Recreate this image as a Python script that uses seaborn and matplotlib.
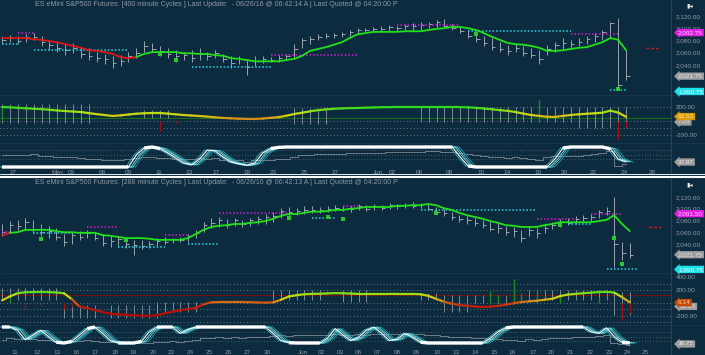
import numpy as np
import pandas as pd
import matplotlib
matplotlib.use("Agg")
import matplotlib.pyplot as plt
import matplotlib.transforms as mtransforms
from matplotlib.collections import LineCollection
from matplotlib.colors import LinearSegmentedColormap, Normalize
from matplotlib.lines import Line2D
import seaborn as sns

sns.set_style("dark")
plt.rcParams['font.family'] = ['Liberation Sans', 'DejaVu Sans']

# ---------------- data : upper chart (400 minute cycles) ----------------
highs_top = [2087,2089,2087,2090,2092,2087,2081,2077,2074,2076,
             2069,2068,2061,2058,2054,2056,2061,2068,2079,2076,
             2071,2068,2064,2061,2064,2068,2061,2064,2058,2054,
             2054,2048,2054,2054,2053,2056,2058,2074,2084,2087,
             2090,2092,2092,2094,2097,2100,2100,2102,2104,2105,
             2104,2107,2108,2110,2110,2113,2115,2107,2104,2097,
             2094,2087,2084,2077,2072,2074,2071,2068,2064,2072,
             2077,2084,2081,2084,2087,2092,2097,2110,2117,2064]
lows_top = [2074,2077,2074,2077,2081,2071,2064,2061,2056,2059,
            2051,2048,2045,2041,2035,2038,2045,2051,2061,2061,
            2054,2051,2045,2048,2045,2048,2048,2051,2045,2035,
            2041,2023,2038,2043,2045,2045,2048,2051,2068,2074,
            2081,2084,2084,2086,2087,2092,2094,2094,2094,2095,
            2095,2097,2097,2097,2100,2102,2100,2097,2092,2084,
            2077,2071,2064,2061,2056,2061,2054,2051,2041,2056,
            2061,2064,2068,2071,2074,2077,2081,2084,1999,2015]
closes_top = [2080,2084,2079,2085,2086,2078,2072,2068,2065,2068,
              2058,2054,2052,2050,2044,2047,2055,2060,2071,2066,
              2062,2058,2054,2056,2052,2058,2055,2059,2050,2043,
              2049,2036,2046,2049,2048,2052,2055,2066,2080,2082,
              2086,2088,2089,2090,2094,2097,2097,2099,2099,2102,
              2100,2103,2104,2106,2107,2110,2104,2100,2095,2088,
              2082,2076,2070,2066,2062,2068,2060,2056,2050,2066,
              2072,2076,2074,2078,2082,2088,2094,2108,2008,2022]
ma_top = [2084,2084,2084,2084,2082,2081,2079,2077,2074,2071,
          2068,2064,2063,2061,2058,2053,2051,2053,2058,2061,
          2061,2061,2061,2059,2059,2058,2058,2056,2055,2051,
          2050,2048,2046,2046,2046,2046,2048,2050,2055,2063,
          2066,2069,2073,2077,2084,2090,2092,2094,2094,2094,
          2094,2095,2095,2095,2097,2099,2100,2102,2102,2100,
          2097,2092,2086,2081,2076,2074,2073,2071,2068,2063,
          2063,2064,2066,2068,2069,2073,2077,2084,2081,2064]
ma_red_end_top = 17
osc_top = [200,195,188,182,175,170,160,150,142,135,
           128,112,98,85,72,80,92,104,110,114,
           114,105,95,85,78,71,62,52,44,38,
           33,30,29,35,45,55,75,100,118,138,
           155,166,174,180,184,186,190,193,196,198,
           200,200,200,200,200,200,200,200,198,194,
           188,178,168,155,145,128,105,85,72,60,
           58,72,86,95,103,110,118,148,120,60]
cyc_top = ([0] * 17 +
           [60,95,100,92,70,45,20,10,40,85,80,50,25,15,8,20,70,92,98] +
           [100] * 22 + [50,5] + [0] * 10 + [40,95] + [100] * 5 + [90,40,25])
seg_s_top = [0, 18, 37, 53, 73]
seg_e_top = [11, 21, 41, 72, 79]
seg_lo_top = [-30, 40, -40, -10, -100]
seg_hi_top = [240, 150, 190, 200, 200]
dn_i_top = [20, 22, 66, 78, 79]
dn_v_top = [-140, -30, -20, -270, -100]
up_i_top = [0, 68]
up_v_top = [230, 300]
lvl_s_top = [0, 2, 4, 24, 34, 50, 59, 72, 77]
lvl_e_top = [2, 4, 16, 34, 45, 58, 72, 78, 79]
lvl_v_top = [2074, 2092, 2064, 2037, 2056, 2105, 2095, 2091, 1999]
lvl_c_top = ['c', 'm', 'c', 'c', 'm', 'm', 'c', 'm', 'c']
mk_i_top = [20, 22, 60, 78]
mk_v_top = [2058, 2048, 2090, 2000]
proj_top = 2068
xt_top = [1.39, 7.09, 8.73, 12.66, 15.95, 19.87, 23.67, 27.09, 31.01, 34.30, 38.23, 42.15,
          47.59, 49.37, 52.78, 56.58, 60.63, 63.92, 67.85, 71.14, 74.81, 78.73, 82.28]
xl_top = ['27', 'May', '03', '06', '09', '11', '13', '17', '19', '23', '25', '27',
          'Jun', '02', '06', '08', '10', '14', '16', '20', '22', '24', '28']
title_top = ("ES eMini S&P500 Futures: [400 minute Cycles ] Last Update:  - 06/26/16 @ 06:42:14 A"
             " | Last Quoted @ 04:20:00 P")

# ---------------- data : lower chart (288 minute cycles) ----------------
highs_bot = [2074,2079,2081,2084,2081,2074,2071,2067,2057,2060,
             2062,2064,2060,2057,2054,2054,2050,2047,2047,2045,
             2050,2052,2050,2052,2057,2064,2077,2084,2086,2083,
             2084,2081,2084,2088,2091,2094,2101,2103,2101,2105,
             2105,2103,2105,2106,2105,2105,2108,2106,2108,2106,
             2110,2108,2110,2111,2110,2108,2103,2100,2094,2089,
             2088,2084,2081,2077,2076,2071,2069,2064,2071,2067,
             2072,2077,2083,2084,2088,2089,2091,2098,2103,2120,
             2043,2042]
lows_bot = [2054,2060,2064,2064,2060,2054,2050,2047,2037,2040,
            2047,2050,2047,2037,2035,2037,2033,2021,2031,2033,
            2037,2040,2042,2043,2043,2050,2060,2067,2069,2067,
            2071,2069,2071,2074,2074,2077,2084,2088,2089,2091,
            2093,2093,2094,2096,2096,2094,2098,2096,2098,2098,
            2100,2100,2101,2101,2101,2098,2091,2088,2081,2077,
            2074,2071,2067,2062,2059,2055,2052,2043,2054,2050,
            2059,2066,2069,2072,2074,2077,2079,2084,2089,2001,
            2013,2016]
closes_bot = [2060,2072,2070,2078,2066,2060,2062,2052,2044,2055,
              2052,2058,2050,2042,2045,2048,2040,2038,2036,2040,
              2045,2044,2048,2046,2053,2058,2072,2076,2080,2072,
              2080,2074,2080,2082,2086,2088,2096,2094,2096,2098,
              2098,2097,2100,2102,2100,2099,2104,2100,2104,2102,
              2106,2104,2106,2104,2108,2100,2095,2092,2086,2082,
              2080,2075,2072,2066,2068,2060,2062,2050,2064,2058,
              2068,2072,2078,2076,2082,2084,2086,2094,2096,2040,
              2025,2022]
ma_bot = [2054,2059,2060,2064,2064,2064,2064,2062,2060,2060,
          2059,2059,2059,2055,2054,2052,2050,2050,2050,2049,
          2047,2047,2047,2047,2050,2057,2064,2069,2071,2072,
          2074,2074,2076,2077,2079,2083,2088,2091,2091,2093,
          2095,2095,2096,2098,2098,2100,2101,2103,2103,2103,
          2103,2105,2105,2106,2106,2108,2106,2101,2098,2093,
          2089,2086,2083,2079,2076,2072,2071,2069,2069,2069,
          2072,2074,2077,2077,2077,2077,2077,2079,2081,2089,
          2074,2062]
ma_red_end_bot = 1
osc_bot = [40,100,150,165,168,170,168,162,150,60,
           -55,-80,-110,-140,-165,-175,-182,-190,-195,-198,
           -190,-160,-135,-110,-95,-75,-20,10,15,15,
           15,15,12,8,5,10,50,100,120,135,
           140,142,148,152,150,145,140,140,140,140,
           140,139,139,139,135,110,65,20,-10,-30,
           -45,-55,-62,-55,-45,-25,-5,15,25,35,
           50,65,105,130,140,150,160,168,172,160,
           90,10]
cyc_bot = ([100,100,80,20,50,80,40,5,0,10,50,90,100,60,15,0,0,0,10,70,100,100,100,60,85,100] +
           [100] * 9 + [60,15,2] + [0] * 4 +
           [30,90,50,15,35,80,100,60,15,25,60,35,5] + [0] * 8 + [30,70,95] +
           [100] * 10 + [70,60,95,40,5,0])
seg_s_bot = [0, 8, 14, 20, 35, 44, 54, 57, 61, 68, 79]
seg_e_bot = [7, 12, 20, 25, 41, 47, 56, 60, 67, 78, 81]
seg_lo_bot = [46, -230, -230, -140, 40, 20, 46, -139, 0, 46, -185]
seg_hi_bot = [230, -30, -30, 15, 200, 200, 154, 123, 123, 200, 170]
dn_i_bot = [3, 5, 8, 9, 62, 80, 81]
dn_v_bot = [-100, -40, -90, -60, -20, -260, -150]
up_i_bot = [1, 63, 64, 66, 67, 69, 72, 77]
up_v_bot = [120, 180, 120, 370, 150, 180, 100, 80]
lvl_s_bot = [0, 4, 11, 15, 21, 24, 28, 40, 44, 54, 69, 73, 76, 78]
lvl_e_bot = [1, 9, 15, 21, 24, 28, 37, 43, 46, 69, 74, 76, 80, 82]
lvl_v_bot = [2060, 2059, 2069, 2035, 2055, 2040, 2093, 2084, 2105, 2098, 2083, 2074, 2091, 1998]
lvl_c_bot = ['m', 'c', 'm', 'c', 'm', 'c', 'm', 'c', 'm', 'c', 'm', 'c', 'm', 'c']
mk_i_bot = [5, 16, 37, 42, 44, 56, 72, 79, 80]
mk_v_bot = [2049, 2047, 2084, 2086, 2083, 2093, 2072, 2050, 2006]
proj_bot = 2069
xt_bot = [1.68, 4.52, 7.10, 9.55, 12.0, 14.58, 16.9, 19.48, 21.81, 24.26, 26.71, 29.16, 31.61,
          34.19, 38.84, 41.16, 43.61, 45.94, 48.39, 50.97, 53.42, 56.13, 58.58, 61.03, 63.48,
          65.81, 68.52, 70.84, 73.29, 75.87, 78.32, 80.65, 82.97]
xl_bot = ['11', '12', '13', '16', '17', '18', '19', '20', '23', '24', '25', '26', '27', '30',
          'Jun', '02', '03', '06', '07', '08', '09', '10', '13', '14', '15', '16', '17', '20',
          '21', '22', '23', '24', '25']
title_bot = ("ES eMini S&P500 Futures: [288 minute Cycles ] Last Update:  - 06/26/16 @ 06:42:13 A"
             " | Last Quoted @ 04:20:00 P")

price_ticks = [2040, 2060, 2080, 2100, 2120]

# ---------------- styling ----------------
BG = '#0d2b3f'
TXT = '#8d99a3'
BAR = '#a3abb2'
GREEN = '#22e01a'
RED = '#e01818'
LVL = {'c': '#27d3e3', 'm': '#d21fd2'}
W, H = 705, 355
RIGHT = 671

fig = plt.figure(figsize=(7.05, 3.55), dpi=100, facecolor=BG)

osc_cmap = LinearSegmentedColormap.from_list(
    'osc', [(0.0, '#b00808'), (0.37, '#c41c0a'), (0.5, '#d04a10'), (0.58, '#d8901a'),
            (0.68, '#d8c812'), (0.8, '#b8e014'), (1.0, '#30d820')])


def add_ax(top, bottom):
    ax = fig.add_axes([0, 1 - bottom / H, RIGHT / W, (bottom - top) / H])
    ax.set_facecolor('none')
    for s in ax.spines.values():
        s.set_visible(False)
    ax.grid(False)
    ax.tick_params(length=0, colors=TXT, labelsize=4.6, pad=3.5)
    ax.yaxis.tick_right()
    return ax


def tag(ax, pos, text, fc, tc):
    trans = mtransforms.blended_transform_factory(ax.transAxes, ax.transData)
    ax.text(1 + 7 / RIGHT, pos, text, transform=trans, fontsize=4.6, color=tc,
            va='center', ha='left', clip_on=False, zorder=20,
            bbox=dict(boxstyle='larrow,pad=0.18', fc=fc, ec='none'))


def panel(tp, p):
    (ptop, pbot, otop, obot, ctop, cbot) = tp
    n = len(p['close'])
    x = np.arange(n)
    df = pd.DataFrame({'i': x, 'high': p['high'], 'low': p['low'], 'close': p['close'],
                       'ma': p['ma'], 'osc': p['osc'], 'cyc': p['cyc']})

    # ---- price pane
    axp = add_ax(ptop, pbot)
    axp.set_xlim(*p['xlim'])
    axp.set_ylim(*p['pylim'])
    axp.set_xticks([])
    axp.set_yticks(price_ticks)
    axp.set_yticklabels([f'{v:,.2f}' for v in price_ticks])
    axp.vlines(df['i'], df['low'], df['high'], color=BAR, lw=0.65, zorder=2)
    axp.hlines(df['close'], df['i'], df['i'] + 0.45, color=BAR, lw=0.65, zorder=2)
    for s, e, v, c in zip(p['lvl_s'], p['lvl_e'], p['lvl_v'], p['lvl_c']):
        axp.hlines(v, s, e, colors=LVL[c], lw=1.1, linestyles=(0, (1.0, 1.3)), zorder=3)
    r = p['red_end']
    sns.lineplot(data=df.iloc[:r + 1], x='i', y='ma', color=RED, lw=1.3, ax=axp, zorder=4)
    sns.lineplot(data=df.iloc[r:], x='i', y='ma', color=GREEN, lw=1.3, ax=axp, zorder=4)
    axp.scatter(p['mk_i'], p['mk_v'], marker='s', s=5, color='#28c828', zorder=5, lw=0)
    axp.hlines(p['proj'], n + 1.5, n + 3, colors='#e01818', lw=1.0, linestyles=(0, (2, 1.5)))
    axp.set_xlabel('')
    axp.set_ylabel('')
    for v, t, fc, tc in p['ptags']:
        tag(axp, v, t, fc, tc)

    # ---- oscillator pane
    axo = add_ax(otop, obot)
    axo.set_xlim(*p['xlim'])
    axo.set_ylim(*p['oylim'])
    axo.set_xticks([])
    axo.set_yticks(p['oticks'])
    axo.set_yticklabels([f'{v:,.2f}' for v in p['oticks']])
    for lv in p['odots']:
        axo.axhline(lv, color='#9aa6ae', lw=0.6, ls=(0, (0.8, 3.2)), zorder=1)
    axo.axhline(p['oline'][0], color=p['oline'][1], lw=0.8, zorder=1)
    for s, e, lo, hi in zip(p['seg_s'], p['seg_e'], p['seg_lo'], p['seg_hi']):
        xi = np.arange(s, e + 1)
        axo.vlines(xi, lo, hi, color='#8e979e', lw=0.6, zorder=2)
    axo.vlines(p['dn_i'], 0, p['dn_v'], color='#a01212', lw=1.0, zorder=2)
    axo.vlines(p['up_i'], 0, p['up_v'], color='#1f8a1f', lw=1.0, zorder=2)
    pts = np.column_stack([df['i'].to_numpy(), df['osc'].to_numpy(float)])
    segs = np.stack([pts[:-1], pts[1:]], axis=1)
    lc = LineCollection(segs, cmap=osc_cmap, norm=Normalize(-200, 200), lw=1.6,
                        capstyle='round', zorder=4)
    lc.set_array((pts[:-1, 1] + pts[1:, 1]) / 2)
    axo.add_collection(lc)
    for v, t, fc, tc in p['otags']:
        tag(axo, v, t, fc, tc)

    # ---- cycles pane
    axs = add_ax(ctop, cbot)
    axs.set_xlim(*p['xlim'])
    axs.set_ylim(*p['cylim'])
    axs.set_yticks([])
    axs.set_xticks(p['xt'])
    axs.set_xticklabels(p['xl'], fontsize=4.6)
    axs.tick_params(axis='x', pad=p['xpad'])
    ax2 = axs.twinx()
    ax2.set_zorder(axs.get_zorder() - 1)
    ax2.set_facecolor('none')
    ax2.set_ylim(*p['stylim'])
    ax2.axis('off')
    ax2.plot(df['i'], df['close'], drawstyle='steps-mid', color='#7f8a92', lw=0.6)
    for lv in p['cdots']:
        axs.axhline(lv, color='#8a969e', lw=0.5, ls=(0, (0.8, 3.2)), zorder=1)
    cyc = df['cyc'].to_numpy(float)
    for off, col, lw in [(0.9, '#1f9aa8', 0.6), (0.6, '#45d0d8', 0.6), (0.35, '#8fe6e6', 0.6),
                         (-0.3, '#2bb8c4', 0.6)]:
        axs.plot(df['i'] + off, cyc, color=col, lw=lw, zorder=2)
    sns.lineplot(data=df, x='i', y='cyc', color='white', lw=0.8, ax=axs, zorder=3)
    thick = np.where((cyc >= 90) | (cyc <= 10), cyc, np.nan)
    axs.plot(df['i'], thick, color='white', lw=2.4, solid_capstyle='butt', zorder=3)
    axs.set_xlabel('')
    axs.set_ylabel('')
    for v, t, fc, tc in p['ctags']:
        tag(axs, v, t, fc, tc)
    return axp, axo, axs


GREY_T = ('#9c9c9c', '#e6e6e6')
MAG_T = ('#e020e0', '#ffc4ff')
CYA_T = ('#1ce0ea', '#e8ffff')

top = dict(high=highs_top, low=lows_top, close=closes_top, ma=ma_top, osc=osc_top, cyc=cyc_top,
           red_end=ma_red_end_top, lvl_s=lvl_s_top, lvl_e=lvl_e_top, lvl_v=lvl_v_top,
           lvl_c=lvl_c_top, mk_i=mk_i_top, mk_v=mk_v_top, proj=proj_top,
           seg_s=seg_s_top, seg_e=seg_e_top, seg_lo=seg_lo_top, seg_hi=seg_hi_top,
           dn_i=dn_i_top, dn_v=dn_v_top, up_i=up_i_top, up_v=up_v_top,
           xlim=(-0.253, 84.68), pylim=(1991, 2146), oylim=(-314, 371), cylim=(-10, 120),
           stylim=(1985, 2165), oticks=[200, -200], odots=[200, 0, -100, -200],
           oline=(45, '#1a6a1a'), cdots=[86, 62, 38], xt=xt_top, xl=xl_top, xpad=0.6,
           ptags=[(2092.75, '2,092.75', *MAG_T), (2021.75, '2,021.75', *GREY_T),
                  (1996.75, '1,996.75', *CYA_T)],
           otags=[(-14, '7.25', *GREY_T), (63.53, '63.53', '#d89a00', '#ffe4a8')],
           ctags=[(25, '37.97', *GREY_T)])
bot = dict(high=highs_bot, low=lows_bot, close=closes_bot, ma=ma_bot, osc=osc_bot, cyc=cyc_bot,
           red_end=ma_red_end_bot, lvl_s=lvl_s_bot, lvl_e=lvl_e_bot, lvl_v=lvl_v_bot,
           lvl_c=lvl_c_bot, mk_i=mk_i_bot, mk_v=mk_v_bot, proj=proj_bot,
           seg_s=seg_s_bot, seg_e=seg_e_bot, seg_lo=seg_lo_bot, seg_hi=seg_hi_bot,
           dn_i=dn_i_bot, dn_v=dn_v_bot, up_i=up_i_bot, up_v=up_v_bot,
           xlim=(-0.258, 86.32), pylim=(1990.6, 2154), oylim=(-339, 462), cylim=(-37.5, 112.5),
           stylim=(1990, 2175), oticks=[400, 200, -200], odots=[300, 200, 0, -100, -200, -300],
           oline=(120, '#701212'), cdots=[70, 35, 10], xt=xt_bot, xl=xl_bot, xpad=0.4,
           ptags=[(2091.5, '2,091.50', *MAG_T), (2021.75, '2,021.75', *GREY_T),
                  (1996.75, '1,996.75', *CYA_T)],
           otags=[(-52.23, '-52.23', *GREY_T), (6.14, '6.14', '#c84a00', '#ffd0b0')],
           ctags=[(-6, '36.75', *GREY_T)])

panel((0, 95, 95, 143, 143, 169), top)
panel((177, 273, 273, 325, 325, 349), bot)

# frame lines
def fline(x0, y0, x1, y1, color, lw):
    fig.add_artist(Line2D([x0 / W, x1 / W], [1 - y0 / H, 1 - y1 / H], color=color, lw=lw,
                          transform=fig.transFigure, zorder=0))

for yy in (95, 143, 273, 325):
    fline(0, yy, W, yy, '#1c3a4f', 0.5)
fline(RIGHT, 0, RIGHT, 173, '#2a4a60', 0.6)
fline(RIGHT, 177, RIGHT, 355, '#2a4a60', 0.6)
fline(0, 174.3, W, 174.3, '#e8eef2', 0.7)
fline(0, 176.6, W, 176.6, '#ffffff', 1.5)

fig.text(35 / W, 1 - 5 / H, title_top, color=TXT, fontsize=5.0, va='center', ha='left')
fig.text(35 / W, 1 - 183 / H, title_bot, color=TXT, fontsize=5.0, va='center', ha='left')
for yy in (6, 185):
    fig.text(686 / W, 1 - yy / H, '\u25ae\u25c2', color='#e8e8e8', fontsize=4.5,
             va='center', ha='left', family=['DejaVu Sans'])

fig.savefig('out.png', dpi=100, facecolor=BG)
